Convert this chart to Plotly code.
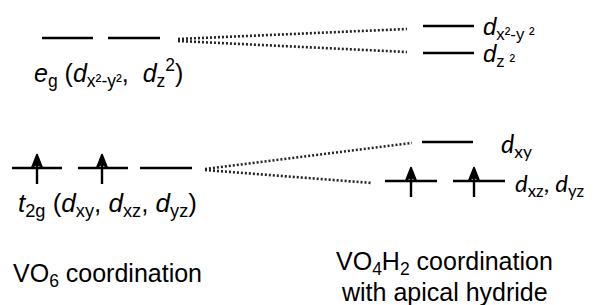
import plotly.graph_objects as go

# ---- data (diagram coordinates: x in px-like units, y = energy position, top = high) ----
# left (VO6) levels: (x_start, x_end, y)
left_eg_levels = [(42, 93, 38), (108, 160, 38)]
left_t2g_levels = [(12, 62, 168), (78, 128, 168), (140, 192, 168)]
# right (VO4H2) levels
right_eg_levels = [(423, 474, 26), (423, 474, 53)]
right_t2g_levels = [(422, 473, 142), (385, 437, 181), (453, 505, 181)]
# correlation (dotted) lines: (x0, y0, x1, y1)
corr_lines = [(178, 39, 407, 29), (178, 41, 407, 52),
              (205, 169, 412, 143), (205, 170, 372, 183)]
# electrons (spin up arrows): (x, level y)
electrons = [(37, 168), (102, 168), (411, 181), (474, 181)]

BLACK = "#000000"
fig = go.Figure()

def add_levels(levels):
    xs, ys = [], []
    for x0, x1, y in levels:
        xs += [x0, x1, None]
        ys += [y, y, None]
    fig.add_trace(go.Scatter(x=xs, y=ys, mode="lines",
                             line=dict(color=BLACK, width=2.6),
                             hoverinfo="skip", showlegend=False))

add_levels(left_eg_levels + left_t2g_levels + right_eg_levels + right_t2g_levels)

xs, ys = [], []
for x0, y0, x1, y1 in corr_lines:
    xs += [x0, x1, None]
    ys += [y0, y1, None]
fig.add_trace(go.Scatter(x=xs, y=ys, mode="lines",
                         line=dict(color="#222222", width=2.6, dash="2px,2px"),
                         hoverinfo="skip", showlegend=False))

# electron arrows: shaft + narrow notched head
UP, DOWN, HW, HL, NOTCH = 14, 16, 5.5, 14, 4
sx, sy, hx, hy = [], [], [], []
for x, y in electrons:
    sx += [x, x, None]
    sy += [y + DOWN, y - UP + 4, None]
    tip = y - UP
    hx += [x, x + HW, x, x - HW, x, None]
    hy += [tip, tip + HL, tip + HL - NOTCH, tip + HL, tip, None]
fig.add_trace(go.Scatter(x=sx, y=sy, mode="lines",
                         line=dict(color=BLACK, width=2.4),
                         hoverinfo="skip", showlegend=False))
fig.add_trace(go.Scatter(x=hx, y=hy, mode="lines", fill="toself",
                         fillcolor=BLACK, line=dict(color=BLACK, width=1.4),
                         hoverinfo="skip", showlegend=False))

F1 = "Liberation Sans, Arial, sans-serif"
F2 = "Lato, Carlito, sans-serif"

def txt(x, y, s, size=22, fam=F1, xanchor="left", align="left"):
    fig.add_annotation(x=x, y=y, xref="x", yref="y", text=s, showarrow=False,
                       xanchor=xanchor, yanchor="middle", align=align,
                       font=dict(family=fam, size=size, color=BLACK))

txt(32, 73, "<i>e</i><sub>g</sub> (<i>d</i><sub>x²-y²</sub>,  <i>d</i><sub>z</sub><sup>2</sup>)", size=25)
txt(16, 204, "<i>t</i><sub>2g</sub> (<i>d</i><sub>xy</sub>, <i>d</i><sub>xz</sub>, <i>d</i><sub>yz</sub>)", size=26)
txt(481, 28, "<i>d</i><sub>x²-y ²</sub>", size=24)
txt(481, 55, "<i>d</i><sub>z ²</sub>", size=24)
txt(499, 145, "<i>d</i><sub>xy</sub>", size=25, fam=F2)
txt(513, 184, "<i>d</i><sub>xz</sub>, <i>d</i><sub>yz</sub>", size=24, fam=F2)
txt(11, 275, "VO<sub>6</sub> coordination", size=25)
txt(444, 263, "VO<sub>4</sub>H<sub>2</sub> coordination", size=25, xanchor="center")
txt(444, 292, "with apical hydride", size=25, xanchor="center")

fig.update_layout(
    width=587, height=297,
    margin=dict(l=0, r=0, t=0, b=0),
    paper_bgcolor="white", plot_bgcolor="white",
    xaxis=dict(range=[8, 595], visible=False, fixedrange=True),
    yaxis=dict(range=[305, 8], visible=False, fixedrange=True),
)
fig.write_html("out.html")
